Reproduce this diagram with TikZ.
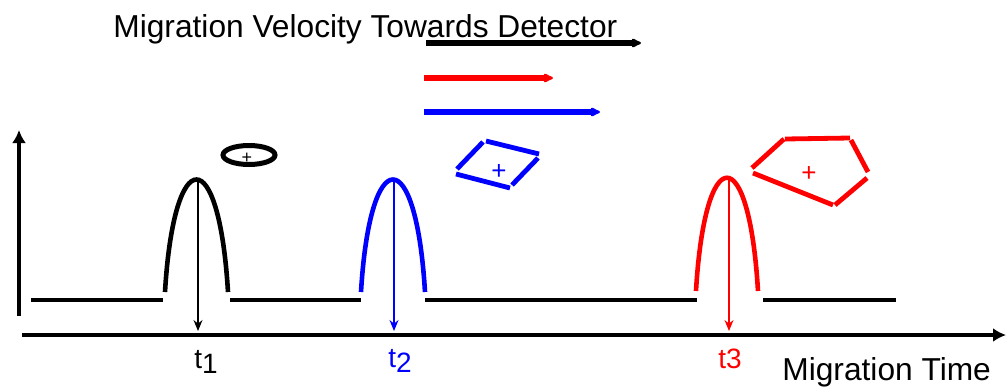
\documentclass[tikz,border=0pt]{standalone}
\usepackage{fontspec}
\setmainfont{Liberation Sans}
\usetikzlibrary{arrows.meta}
\definecolor{rot}{HTML}{FF0000}
\definecolor{blau}{HTML}{0000FF}
\tikzset{
  achse/.style={-{Latex[length=6.5pt,width=7pt]},line width=2.2pt},
  basis/.style={line width=2pt},
  peak/.style={line width=2.3pt},
  zeit/.style={-{Stealth[length=5.5pt,width=4.5pt]},line width=0.6pt},
  tempo/.style={-{Latex[round,length=6pt,width=5.5pt]},line width=2.6pt},
  ion/.style={line width=2.4pt},
  gross/.style={inner sep=0pt,font=\fontsize{15.85}{18}\selectfont},
  tlab/.style={inner sep=0pt,anchor=base west,font=\fontsize{14}{16}\selectfont},
  pluszeichen/.style={inner sep=0pt,font=\fontsize{13}{14}\selectfont},
}

\begin{document}
\begin{tikzpicture}[x=0.5pt,y=-0.5pt]
  \useasboundingbox (0,0) rectangle (1008,387);
  % Achsen
  \coordinate (ursprung) at (19,316);
  \coordinate (yspitze) at (19,130);
  \coordinate (xstart) at (22,335);
  \coordinate (xspitze) at (1006,335);
  \draw[achse] (ursprung) -- (yspitze);
  \draw[achse] (xstart) -- (xspitze);
  \node[gross,anchor=base west] (zeitachse) at (782,380) {Migration Time};
  % Grundlinie
  \draw[basis] (31,300) -- (163,300);
  \draw[basis] (230,300) -- (361,300);
  \draw[basis] (425,300) -- (697,300);
  \draw[basis] (763,300) -- (896,300);
  % Peaks
  \draw[peak] (165,292) .. controls (174,142) and (219,142) .. (228,292);
  \draw[peak,blau] (361,292) .. controls (370,142) and (416,142) .. (425,292);
  \draw[peak,rot] (696,291) .. controls (705,140) and (749,140) .. (758,291);
  \coordinate (p1) at (198,181); \coordinate (a1) at (198,331);
  \coordinate (p2) at (394,181); \coordinate (a2) at (394,331);
  \coordinate (p3) at (729,180); \coordinate (a3) at (729,331);
  \draw[zeit] (p1) -- (a1);
  \draw[zeit,blau] (p2) -- (a2);
  \draw[zeit,rot] (p3) -- (a3);
  \node[tlab] (t1) at (194,368) {t\raisebox{-2.5pt}{1}};
  \node[tlab,blau] (t2) at (388,367) {t\raisebox{-2.5pt}{2}};
  \node[tlab,rot] (t3) at (718,368) {t3};
  % Geschwindigkeiten
  \node[gross,anchor=base west] (titel) at (113,37) {Migration Velocity Towards Detector};
  \coordinate (v0) at (426,43); \coordinate (v1) at (641,43);
  \coordinate (r0) at (424,78); \coordinate (r1) at (553,78);
  \coordinate (b0) at (424,112); \coordinate (b1) at (600,112);
  \draw[tempo] (v0) -- (v1);
  \draw[tempo,rot] (r0) -- (r1);
  \draw[tempo,blau] (b0) -- (b1);
  % Ionen
  \draw[line width=2.5pt] (249,155) ellipse (26 and 9.5);
  \node[pluszeichen,font=\fontsize{9}{10}\selectfont] (plus1) at (247,158) {+};
  \draw[ion,blau] (457,169) -- (483,142);
  \draw[ion,blau] (486,141) -- (539,154);
  \draw[ion,blau] (538,158) -- (512,185);
  \draw[ion,blau] (510,188) -- (456,174);
  \node[pluszeichen,blau] (plus2) at (499,172) {+};
  \draw[ion,rot] (752,168) -- (784,139);
  \draw[ion,rot] (785,139) -- (850,138);
  \draw[ion,rot] (851,140) -- (868,172);
  \draw[ion,rot] (867,178) -- (835,205);
  \draw[ion,rot] (833,205) -- (753,173);
  \node[pluszeichen,rot] (plus3) at (809,174) {+};
\end{tikzpicture}
\end{document}
